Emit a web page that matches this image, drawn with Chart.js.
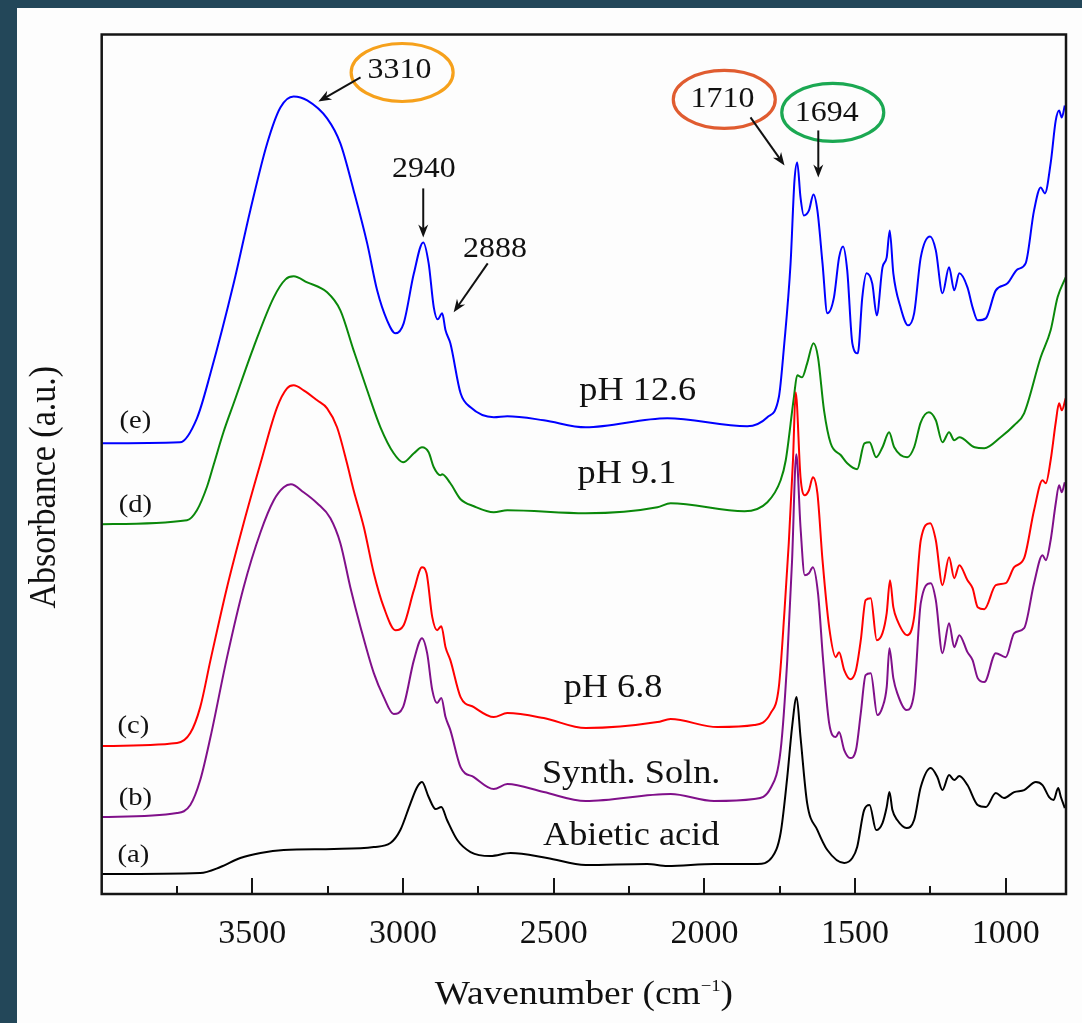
<!DOCTYPE html>
<html lang="en">
<head>
    <meta charset="UTF-8">
    <title>FTIR spectra</title>
    <script src="https://cdn.jsdelivr.net/npm/chart.js"></script>
    <style>
        body {
            margin: 0;
            background-color: #234759;
            width: 1082px;
            height: 1023px;
            overflow: hidden;
        }

        .panel {
            position: absolute;
            left: 17px;
            top: 8px;
            width: 1065px;
            height: 1015px;
            background-color: #fdfdfd;
        }
    </style>
</head>

<body>
<div class="panel">
    <canvas id="ftirChart"></canvas>
</div>

<script>
    // (a) abietic acid
    const wnA = [4000, 3673, 3606, 3540, 3473, 3396, 3230, 3097, 3042, 3009, 2975, 2953, 2937, 2915, 2892, 2873, 2854, 2820, 2776, 2710, 2643, 2522, 2394, 2190, 2123, 1968, 1824, 1775, 1747, 1725, 1709, 1694, 1681, 1659, 1625, 1592, 1536, 1509, 1493, 1470, 1452, 1430, 1409, 1395, 1386, 1376, 1360, 1329, 1304, 1282, 1249, 1227, 1210, 1188, 1171, 1154, 1127, 1093, 1066, 1033, 1006, 972, 939, 900, 878, 856, 841, 826, 817, 804];
    const absA = [0.20, 0.21, 0.27, 0.36, 0.41, 0.44, 0.45, 0.47, 0.51, 0.64, 0.91, 1.07, 1.12, 0.97, 0.85, 0.87, 0.74, 0.54, 0.42, 0.38, 0.41, 0.36, 0.29, 0.30, 0.28, 0.30, 0.30, 0.37, 0.61, 1.17, 1.67, 1.97, 1.57, 0.91, 0.64, 0.44, 0.31, 0.36, 0.47, 0.84, 0.89, 0.64, 0.71, 0.87, 1.02, 0.84, 0.74, 0.66, 0.74, 1.07, 1.26, 1.17, 1.04, 1.19, 1.14, 1.18, 1.09, 0.89, 0.87, 1.01, 0.96, 1.02, 1.04, 1.12, 1.09, 0.97, 0.94, 1.06, 0.97, 0.86];

    // (b) synthetic solution
    const wnB = [4000, 3750, 3706, 3673, 3639, 3584, 3529, 3473, 3429, 3396, 3372, 3330, 3285, 3241, 3208, 3175, 3141, 3097, 3064, 3031, 3000, 2964, 2937, 2920, 2903, 2887, 2873, 2859, 2843, 2809, 2765, 2699, 2654, 2533, 2394, 2112, 1968, 1835, 1780, 1747, 1725, 1709, 1695, 1681, 1667, 1653, 1640, 1623, 1606, 1586, 1564, 1553, 1536, 1516, 1497, 1481, 1465, 1448, 1426, 1409, 1395, 1386, 1373, 1360, 1329, 1304, 1282, 1249, 1232, 1210, 1188, 1171, 1154, 1127, 1110, 1093, 1071, 1033, 1000, 972, 939, 906, 878, 867, 851, 834, 823, 814, 804];
    const absB = [0.77, 0.81, 0.89, 1.14, 1.57, 2.37, 3.07, 3.62, 3.94, 4.07, 4.10, 4.02, 3.91, 3.76, 3.51, 3.07, 2.67, 2.21, 1.97, 1.80, 1.87, 2.34, 2.56, 2.41, 2.04, 1.91, 1.96, 1.77, 1.64, 1.27, 1.17, 1.05, 1.10, 1.02, 0.93, 1.00, 0.93, 0.95, 1.06, 1.44, 2.34, 3.34, 4.40, 3.67, 3.19, 3.21, 3.27, 3.01, 2.34, 1.71, 1.57, 1.62, 1.44, 1.36, 1.44, 1.81, 2.19, 2.21, 1.79, 1.87, 2.07, 2.46, 2.16, 2.01, 1.84, 2.01, 2.91, 3.11, 2.94, 2.41, 2.71, 2.47, 2.59, 2.42, 2.34, 2.16, 2.12, 2.41, 2.37, 2.61, 2.66, 3.11, 3.39, 3.34, 3.54, 3.91, 4.09, 4.02, 4.12];

    // (c) pH 6.8
    const wnC = [4000, 3750, 3706, 3673, 3639, 3584, 3529, 3473, 3418, 3385, 3363, 3330, 3285, 3252, 3219, 3186, 3164, 3130, 3097, 3064, 3025, 2998, 2964, 2937, 2922, 2903, 2887, 2873, 2859, 2843, 2809, 2765, 2699, 2654, 2533, 2394, 2156, 2112, 1957, 1835, 1780, 1753, 1734, 1720, 1706, 1697, 1681, 1667, 1653, 1640, 1625, 1608, 1586, 1564, 1553, 1536, 1516, 1497, 1481, 1465, 1448, 1428, 1409, 1395, 1384, 1373, 1360, 1327, 1304, 1282, 1251, 1232, 1210, 1188, 1171, 1154, 1127, 1110, 1093, 1071, 1033, 1000, 972, 939, 906, 878, 867, 851, 834, 823, 814, 801];
    const absC = [1.48, 1.51, 1.61, 1.87, 2.34, 3.07, 3.71, 4.31, 4.87, 5.06, 5.09, 5.04, 4.94, 4.86, 4.67, 4.31, 4.04, 3.67, 3.21, 2.87, 2.64, 2.69, 3.04, 3.27, 3.21, 2.77, 2.64, 2.68, 2.47, 2.34, 1.97, 1.87, 1.77, 1.81, 1.76, 1.66, 1.72, 1.75, 1.67, 1.69, 1.81, 2.07, 2.84, 3.51, 4.34, 5.02, 4.17, 3.99, 4.04, 4.17, 4.01, 3.34, 2.67, 2.37, 2.42, 2.24, 2.15, 2.24, 2.54, 2.94, 2.96, 2.54, 2.61, 2.81, 3.14, 2.87, 2.74, 2.59, 2.77, 3.54, 3.71, 3.54, 3.09, 3.37, 3.16, 3.29, 3.14, 3.06, 2.87, 2.85, 3.09, 3.11, 3.27, 3.36, 3.84, 4.14, 4.11, 4.34, 4.72, 4.91, 4.84, 4.96];

    // (d) pH 9.1
    const wnD = [4000, 3717, 3684, 3650, 3628, 3596, 3562, 3496, 3429, 3390, 3363, 3318, 3252, 3208, 3164, 3119, 3075, 3031, 3000, 2964, 2937, 2915, 2898, 2876, 2870, 2843, 2809, 2765, 2699, 2654, 2394, 2156, 2112, 1867, 1791, 1747, 1730, 1703, 1692, 1676, 1659, 1638, 1623, 1603, 1581, 1547, 1526, 1493, 1469, 1452, 1430, 1409, 1387, 1370, 1327, 1304, 1282, 1255, 1232, 1210, 1188, 1171, 1154, 1103, 1071, 1017, 972, 939, 884, 851, 828, 801];
    const absD = [3.70, 3.74, 3.84, 4.08, 4.30, 4.62, 4.91, 5.47, 5.97, 6.15, 6.18, 6.12, 6.02, 5.84, 5.44, 5.04, 4.67, 4.41, 4.32, 4.41, 4.47, 4.42, 4.27, 4.19, 4.20, 4.11, 3.95, 3.88, 3.82, 3.84, 3.81, 3.87, 3.91, 3.83, 3.92, 4.14, 4.34, 4.97, 5.19, 5.17, 5.31, 5.51, 5.37, 4.84, 4.51, 4.39, 4.31, 4.25, 4.51, 4.52, 4.37, 4.47, 4.62, 4.47, 4.37, 4.47, 4.72, 4.82, 4.74, 4.52, 4.62, 4.54, 4.57, 4.47, 4.46, 4.57, 4.69, 4.81, 5.37, 5.64, 5.97, 6.17];

    // (e) pH 12.6
    const wnE = [4000, 3740, 3684, 3639, 3562, 3507, 3451, 3407, 3363, 3318, 3252, 3208, 3164, 3119, 3086, 3053, 3025, 2998, 2964, 2933, 2915, 2898, 2885, 2870, 2859, 2843, 2809, 2776, 2699, 2654, 2533, 2394, 2123, 1858, 1791, 1753, 1736, 1714, 1701, 1692, 1681, 1670, 1653, 1638, 1625, 1608, 1592, 1570, 1553, 1540, 1526, 1509, 1491, 1476, 1462, 1443, 1428, 1409, 1395, 1385, 1373, 1349, 1324, 1304, 1282, 1251, 1232, 1210, 1188, 1171, 1154, 1127, 1110, 1093, 1066, 1033, 994, 961, 934, 906, 884, 870, 851, 834, 823, 814, 804];
    const absE = [4.51, 4.52, 4.76, 5.21, 6.11, 6.84, 7.51, 7.87, 7.98, 7.94, 7.76, 7.51, 7.04, 6.51, 6.04, 5.74, 5.61, 5.71, 6.21, 6.52, 6.31, 5.87, 5.75, 5.81, 5.64, 5.51, 5.01, 4.87, 4.77, 4.78, 4.74, 4.67, 4.76, 4.68, 4.77, 4.97, 5.47, 6.31, 7.14, 7.32, 6.97, 6.79, 6.84, 7.00, 6.84, 6.31, 5.81, 5.97, 6.37, 6.48, 6.24, 5.51, 5.41, 5.97, 6.21, 6.11, 5.79, 6.27, 6.37, 6.64, 6.21, 5.87, 5.69, 5.81, 6.37, 6.58, 6.44, 6.01, 6.27, 6.04, 6.21, 6.07, 5.87, 5.74, 5.76, 6.04, 6.11, 6.25, 6.31, 6.84, 7.07, 7.01, 7.31, 7.74, 7.84, 7.77, 7.89];

    // axis ticks (cm-1)
    const majorTicks = [3500, 3000, 2500, 2000, 1500, 1000];
    const minorTicks = [3750, 3250, 2750, 2250, 1750, 1250];

    // text placed in data units (wavenumber, absorbance)
    const curveTags = [
        {text: '(e)', wn: 3888, abs: 4.66},
        {text: '(d)', wn: 3888, abs: 3.82},
        {text: '(c)', wn: 3895, abs: 1.61},
        {text: '(b)', wn: 3888, abs: 0.89},
        {text: '(a)', wn: 3895, abs: 0.32}
    ];
    const sampleNames = [
        {text: 'pH 12.6', wn: 2221, abs: 4.94},
        {text: 'pH 9.1', wn: 2257, abs: 4.11},
        {text: 'pH 6.8', wn: 2303, abs: 1.97},
        {text: 'Synth. Soln.', wn: 2243, abs: 1.11},
        {text: 'Abietic acid', wn: 2243, abs: 0.49}
    ];
    const peakLabels = [
        {text: '3310', wn: 3012, abs: 8.16},
        {text: '2940', wn: 2931, abs: 7.17},
        {text: '2888', wn: 2695, abs: 6.37},
        {text: '1710', wn: 1940, abs: 7.87},
        {text: '1694', wn: 1594, abs: 7.73}
    ];
    const rings = [
        {wn: 3003, abs: 8.22, color: '#f6a11c'},
        {wn: 1934, abs: 7.95, color: '#e05c30'},
        {wn: 1574, abs: 7.82, color: '#1ba852'}
    ];
    const arrows = [
        {from: [3141, 8.17], to: [3281, 7.93]},
        {from: [2933, 7.06], to: [2933, 6.57]},
        {from: [2719, 6.31], to: [2832, 5.82]},
        {from: [1847, 7.77], to: [1734, 7.29]},
        {from: [1622, 7.64], to: [1622, 7.17]}
    ];

    const series = [
        {label: '(a) Abietic acid', wn: wnA, abs: absA, color: '#000000'},
        {label: '(b) Synth. Soln.', wn: wnB, abs: absB, color: '#80108a'},
        {label: '(c) pH 6.8', wn: wnC, abs: absC, color: '#ff0000'},
        {label: '(d) pH 9.1', wn: wnD, abs: absD, color: '#0a880a'},
        {label: '(e) pH 12.6', wn: wnE, abs: absE, color: '#0000ff'}
    ];

    const SERIF = '"Liberation Serif", "Times New Roman", serif';

    // text is a little wider than tall in this figure
    function wideText(ctx, str, x, y, size, align) {
        ctx.save();
        ctx.translate(x, y);
        ctx.scale(1.1, 1);
        ctx.font = size + 'px ' + SERIF;
        ctx.textAlign = align || 'center';
        ctx.textBaseline = 'alphabetic';
        ctx.fillText(str, 0, 0);
        ctx.restore();
    }

    function drawArrow(ctx, x1, y1, x2, y2) {
        const ang = Math.atan2(y2 - y1, x2 - x1);
        const len = 13, half = 5;
        ctx.beginPath();
        ctx.moveTo(x1, y1);
        ctx.lineTo(x2 - Math.cos(ang) * 8, y2 - Math.sin(ang) * 8);
        ctx.stroke();
        ctx.save();
        ctx.translate(x2, y2);
        ctx.rotate(ang);
        ctx.beginPath();
        ctx.moveTo(0, 0);
        ctx.lineTo(-len, -half);
        ctx.lineTo(-len + 4, 0);
        ctx.lineTo(-len, half);
        ctx.closePath();
        ctx.fill();
        ctx.restore();
    }

    const decorPlugin = {
        id: 'decor',
        afterDraw(chart) {
            const {ctx, chartArea: area, scales: {x, y}} = chart;
            ctx.save();

            // frame
            ctx.strokeStyle = '#151515';
            ctx.lineWidth = 2.5;
            ctx.strokeRect(area.left, area.top, area.right - area.left, area.bottom - area.top);

            // inward tick marks on the bottom axis
            ctx.lineWidth = 2;
            ctx.beginPath();
            majorTicks.forEach(v => {
                const px = Math.round(x.getPixelForValue(v));
                ctx.moveTo(px, area.bottom);
                ctx.lineTo(px, area.bottom - 16);
            });
            minorTicks.forEach(v => {
                const px = Math.round(x.getPixelForValue(v));
                ctx.moveTo(px, area.bottom);
                ctx.lineTo(px, area.bottom - 8);
            });
            ctx.stroke();

            // ellipses around the peak numbers
            ctx.lineWidth = 3.2;
            rings.forEach(r => {
                ctx.strokeStyle = r.color;
                ctx.beginPath();
                ctx.ellipse(x.getPixelForValue(r.wn), y.getPixelForValue(r.abs), 51, 29, 0, 0, Math.PI * 2);
                ctx.stroke();
            });

            ctx.fillStyle = '#111';
            ctx.strokeStyle = '#111';
            ctx.lineWidth = 2;
            arrows.forEach(a => {
                drawArrow(ctx,
                    x.getPixelForValue(a.from[0]), y.getPixelForValue(a.from[1]),
                    x.getPixelForValue(a.to[0]), y.getPixelForValue(a.to[1]));
            });

            peakLabels.forEach(p => wideText(ctx, p.text, x.getPixelForValue(p.wn), y.getPixelForValue(p.abs), 29));
            curveTags.forEach(t => wideText(ctx, t.text, x.getPixelForValue(t.wn), y.getPixelForValue(t.abs), 26));
            sampleNames.forEach(s => wideText(ctx, s.text, x.getPixelForValue(s.wn), y.getPixelForValue(s.abs), 33));

            // x axis title with superscript
            const main = 'Wavenumber (cm', sup = '\u22121', close = ')';
            ctx.font = '34px ' + SERIF;
            const wMain = ctx.measureText(main).width;
            const wClose = ctx.measureText(close).width;
            ctx.font = '17px ' + SERIF;
            const wSup = ctx.measureText(sup).width;
            const total = (wMain + wSup + wClose) * 1.1;
            const cx = (area.left + area.right) / 2;
            const base = area.bottom + 110;
            let sx = cx - total / 2;
            wideText(ctx, main, sx, base, 34, 'left');
            sx += wMain * 1.1;
            wideText(ctx, sup, sx, base - 13, 17, 'left');
            sx += wSup * 1.1;
            wideText(ctx, close, sx, base, 34, 'left');

            // y axis title
            ctx.save();
            ctx.translate(area.left - 57, (area.top + area.bottom) / 2 + 23);
            ctx.scale(1.1, 1);
            ctx.rotate(-Math.PI / 2);
            ctx.font = '34px ' + SERIF;
            ctx.textAlign = 'center';
            ctx.textBaseline = 'middle';
            ctx.fillText('Absorbance (a.u.)', 0, 0);
            ctx.restore();

            ctx.restore();
        }
    };

    new Chart(document.getElementById('ftirChart'), {
        type: 'line',
        data: {
            datasets: series.map(s => ({
                label: s.label,
                data: s.wn.map((w, i) => ({x: w, y: s.abs[i]})),
                borderColor: s.color,
                borderWidth: 2,
                pointRadius: 0,
                fill: false,
                cubicInterpolationMode: 'monotone',
                borderJoinStyle: 'round'
            }))
        },
        options: {
            responsive: true,
            maintainAspectRatio: false,
            animation: false,
            layout: {padding: {top: 26.5, right: 16, left: 0, bottom: 0}},
            plugins: {legend: {display: false}, tooltip: {enabled: false}},
            scales: {
                x: {
                    type: 'linear',
                    reverse: true,
                    min: 800,
                    max: 4000,
                    grid: {display: false},
                    border: {display: false},
                    afterBuildTicks: scale => {
                        scale.ticks = majorTicks.map(v => ({value: v}));
                    },
                    afterFit: scale => {
                        scale.height = 129;
                    },
                    ticks: {
                        maxRotation: 0,
                        autoSkip: false,
                        padding: 12,
                        color: '#111',
                        font: {family: SERIF, size: 34},
                        callback: v => String(v)
                    }
                },
                y: {
                    min: 0,
                    max: 8.6,
                    grid: {display: false},
                    border: {display: false},
                    ticks: {display: false},
                    afterFit: scale => {
                        scale.width = 84.7;
                    }
                }
            }
        },
        plugins: [decorPlugin]
    });
</script>
</body>
</html>
